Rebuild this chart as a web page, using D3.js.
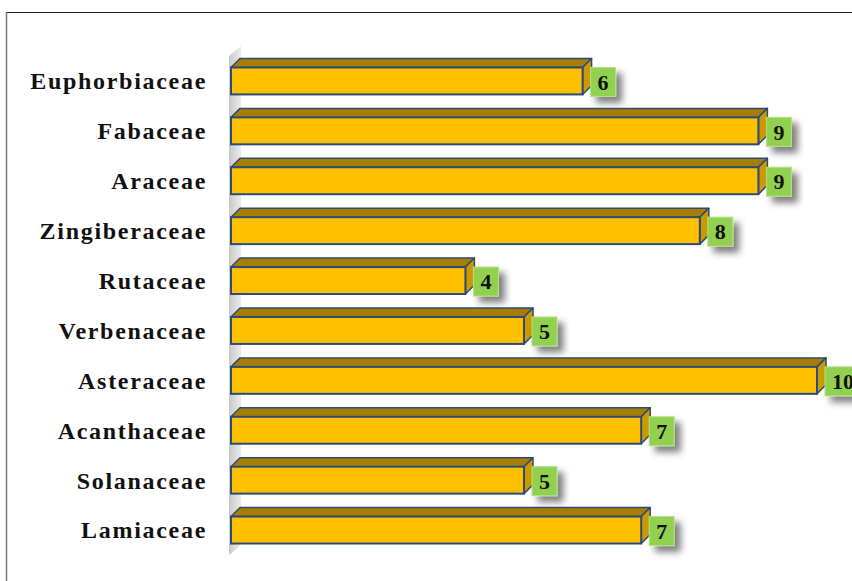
<!DOCTYPE html>
<html>
<head>
<meta charset="utf-8">
<script src="https://cdn.jsdelivr.net/npm/d3@7"></script>
<style>
  body { margin: 0; background: #fff; }
  svg { display: block; }
</style>
</head>
<body>
<svg id="chart" width="852" height="581"></svg>
<script>
// chart data
const families = ["Euphorbiaceae", "Fabaceae", "Araceae", "Zingiberaceae", "Rutaceae",
  "Verbenaceae", "Asteraceae", "Acanthaceae", "Solanaceae", "Lamiaceae"];
const counts = [6, 9, 9, 8, 4, 5, 10, 7, 5, 7];

const svg = d3.select("#chart");
const depth = 9; // 3d offset of the bars

// shadow filter for value boxes
const defs = svg.append("defs");
const f = defs.append("filter").attr("id", "shadow")
  .attr("x", "-50%").attr("y", "-50%").attr("width", "200%").attr("height", "200%");
f.append("feDropShadow").attr("dx", 6).attr("dy", 6).attr("stdDeviation", 3.5)
  .attr("flood-color", "#000").attr("flood-opacity", 0.5);

const wallGrad = defs.append("linearGradient").attr("id", "wall")
  .attr("x1", 0).attr("x2", 1).attr("y1", 0).attr("y2", 0);
wallGrad.append("stop").attr("offset", 0).attr("stop-color", "#c8c8c8");
wallGrad.append("stop").attr("offset", 1).attr("stop-color", "#ececec");

// outer frame
svg.append("line").attr("x1", 6).attr("x2", 852).attr("y1", 12.5).attr("y2", 12.5)
  .attr("stroke", "#222").attr("stroke-width", 1);
svg.append("line").attr("x1", 6.5).attr("x2", 6.5).attr("y1", 12).attr("y2", 581)
  .attr("stroke", "#777").attr("stroke-width", 1.5);

const x = d3.scaleLinear().domain([0, 10]).range([231, 817]);
const y = d3.scaleBand().domain(families).range([56, 555]).paddingInner(0.46).paddingOuter(0.23);

// back wall
const x0 = x(0) - 2;
svg.append("path")
  .attr("d", `M${x0},${y.range()[0]} L${x0 + 12},${y.range()[0] - 10} L${x0 + 12},${y.range()[1] - 10} L${x0},${y.range()[1]} Z`)
  .attr("fill", "url(#wall)");

// category labels
svg.append("g").selectAll("text").data(families).join("text")
  .attr("x", 207)
  .attr("y", d => y(d) + y.bandwidth() / 2)
  .attr("dy", "0.35em")
  .attr("text-anchor", "end")
  .attr("font-family", "'Liberation Serif', 'Times New Roman', serif")
  .attr("font-weight", "bold")
  .attr("font-size", 24)
  .attr("letter-spacing", 1.7)
  .attr("fill", "#111")
  .text(d => d);

const data = families.map((f, i) => ({ name: f, value: counts[i] }));
const bars = svg.append("g").selectAll("g").data(data).join("g");
const stroke = "#2c4a7a";

// top face
bars.append("path")
  .attr("d", d => {
    const l = x(0), r = x(d.value), t = y(d.name);
    return `M${l},${t} L${l + depth},${t - depth} L${r + depth},${t - depth} L${r},${t} Z`;
  })
  .attr("fill", "#a87e00").attr("stroke", stroke).attr("stroke-width", 1.5).attr("stroke-linejoin", "round");

// side face
bars.append("path")
  .attr("d", d => {
    const r = x(d.value), t = y(d.name), b = t + y.bandwidth();
    return `M${r},${t} L${r + depth},${t - depth} L${r + depth},${b - depth} L${r},${b} Z`;
  })
  .attr("fill", "#cc9a00").attr("stroke", stroke).attr("stroke-width", 1.5).attr("stroke-linejoin", "round");

// front face
bars.append("rect")
  .attr("x", x(0))
  .attr("y", d => y(d.name))
  .attr("width", d => x(d.value) - x(0))
  .attr("height", y.bandwidth())
  .attr("fill", "#ffc000").attr("stroke", stroke).attr("stroke-width", 2);

// value boxes
const boxW = 25, boxH = 29;
bars.append("rect")
  .attr("x", d => x(d.value) + depth - 1)
  .attr("y", d => y(d.name) + y.bandwidth() / 2 - boxH / 2 + 1)
  .attr("width", d => d.value >= 10 ? 36 : boxW)
  .attr("height", boxH)
  .attr("fill", "#92d050")
  .attr("stroke", "#b5e08a").attr("stroke-width", 1)
  .attr("filter", "url(#shadow)");

bars.append("text")
  .attr("x", d => x(d.value) + depth - 1 + (d.value >= 10 ? 18 : boxW / 2))
  .attr("y", d => y(d.name) + y.bandwidth() / 2 + 1)
  .attr("dy", "0.35em")
  .attr("text-anchor", "middle")
  .attr("font-family", "'Liberation Serif', 'Times New Roman', serif")
  .attr("font-weight", "bold")
  .attr("font-size", 22)
  .attr("fill", "#111")
  .text(d => d.value);
</script>
</body>
</html>
